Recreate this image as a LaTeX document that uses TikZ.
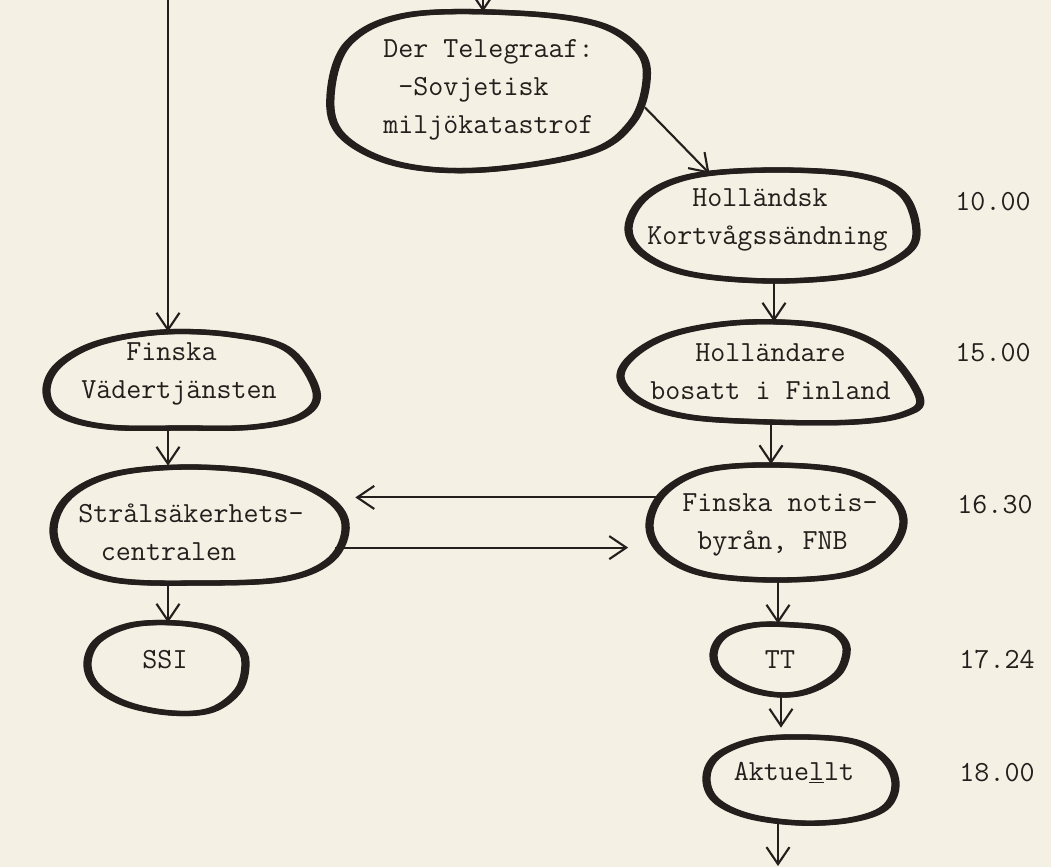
\documentclass[tikz,border=0pt]{standalone}
\usetikzlibrary{shapes.geometric,arrows.meta}
\definecolor{paper}{RGB}{245,240,228}
\definecolor{ink}{RGB}{36,30,28}
\newcommand\flowtext{\fontsize{16.6}{21.6}\selectfont\ttfamily}
\newcommand\blob[2]{
  \begin{scope}[shift={(#1.center)}]
    \draw[blobline] plot[smooth cycle, tension=.6] coordinates {#2} ;
    \draw[blobline, shift={(-3, 0)}] plot[smooth cycle, tension=.6] coordinates {#2} ;
  \end{scope}
}
\tikzset{
  blobline/.style={line width=3pt, draw=ink, line join=round},
  blobnode/.style 2 args={ellipse, minimum width=#1*.02cm, minimum height=#2*.02cm, inner sep=0pt},
  flowlabel/.style={font=\flowtext, align=left, inner sep=0pt, text=ink},
  flowarrow/.style={line width=1.2pt, draw=ink, -{Straight Barb[length=.34cm, width=.46cm]}}
}
\begin{document}
\begin{tikzpicture}[x=.02cm, y=-.02cm]
  \fill[paper] (0, 0) rectangle (1051, 867) ;
  \useasboundingbox (0, 0) rectangle (1051, 867) ;

  \node[blobnode={318}{158}] (tel) at (489, 91) {} ;
  \node[blobnode={288}{112}] (holl) at (774, 224) {} ;
  \node[blobnode={300}{100}] (hollfi) at (771, 372) {} ;
  \node[blobnode={255}{115}] (fnb) at (778, 522) {} ;
  \node[blobnode={133}{70}] (tt) at (781, 659) {} ;
  \node[blobnode={190}{86}] (akt) at (802, 780) {} ;
  \node[blobnode={270}{96}] (fmi) at (185, 380) {} ;
  \node[blobnode={292}{116}] (stuk) at (201, 524) {} ;
  \node[blobnode={158}{90}] (ssi) at (168, 668) {} ;

  \blob{tel}{(-139,-48) (-80,-76) (28,-78) (110,-67) (151,-41) (159,-10) (144,32) (100,62) (-6,79) (-90,73) (-145,45) (-157,5)}
  \blob{holl}{(144,10) (128,33) (82,51) (0,57) (-82,50) (-128,31) (-144,4) (-126,-28) (-80,-48) (0,-54) (84,-49) (130,-30)}
  \blob{hollfi}{(150,25) (135,42) (85,50) (0,50) (-80,45) (-128,30) (-149,5) (-132,-20) (-90,-40) (-20,-50) (60,-45) (115,-22)}
  \blob{fnb}{(127,0) (112,30) (72,52) (0,58) (-72,52) (-113,32) (-127,3) (-112,-30) (-70,-52) (0,-57) (72,-50) (113,-27)}
  \blob{tt}{(67,-6) (58,15) (32,31) (3,36) (-30,30) (-58,14) (-66,-5) (-55,-24) (-25,-34) (15,-34) (48,-30) (63,-20)}
  \blob{akt}{(95,5) (84,28) (50,40) (0,43) (-52,36) (-85,20) (-94,-3) (-82,-25) (-45,-40) (5,-43) (55,-38) (85,-20)}
  \blob{fmi}{(133,12) (118,36) (70,47) (0,48) (-75,47) (-122,35) (-137,12) (-125,-15) (-85,-37) (-20,-48) (50,-45) (105,-30)}
  \blob{stuk}{(146,0) (132,35) (85,55) (0,59) (-85,56) (-132,36) (-146,5) (-130,-28) (-85,-50) (-10,-57) (70,-50) (125,-28)}
  \blob{ssi}{(79,-5) (72,22) (45,42) (5,45) (-40,36) (-70,18) (-79,-5) (-68,-28) (-35,-43) (10,-45) (50,-38) (72,-22)}

  \node[flowlabel, anchor=west] (teltext) at (383, 90) {Der Telegraaf:\\\hphantom{x}-Sovjetisk\\miljökatastrof} ;
  \node[flowlabel, anchor=west] (holltext) at (647, 220) {\hphantom{xxx}Holländsk\\Kortvågssändning} ;
  \node[flowlabel, anchor=west] (hollfitext) at (650, 372) {\hphantom{xxx}Holländare\\bosatt i Finland} ;
  \node[flowlabel, anchor=west] (fnbtext) at (682, 525) {Finska notis-\\\hphantom{x}byrån, FNB} ;
  \node[flowlabel] (tttext) at (780, 660) {TT} ;
  \node[flowlabel] (akttext) at (794, 773) {Aktue\underline{l}lt} ;
  \node[flowlabel, anchor=west] (fmitext) at (81, 374) {\hphantom{xxx}Finska\\Vädertjänsten} ;
  \node[flowlabel, anchor=west] (stuktext) at (78, 532) {Strålsäkerhets-\\\hphantom{x}\hspace*{.26em}centralen} ;
  \node[flowlabel] (ssitext) at (165, 660) {SSI} ;

  \node[flowlabel] (kl1000) at (993, 202) {10.00} ;
  \node[flowlabel] (kl1500) at (993, 353) {15.00} ;
  \node[flowlabel] (kl1630) at (995, 505) {16.30} ;
  \node[flowlabel] (kl1724) at (997, 660) {17.24} ;
  \node[flowlabel] (kl1800) at (997, 773) {18.00} ;

  \coordinate (telin) at (483, -30) ;
  \coordinate (fmiin) at (168, -30) ;
  \coordinate (aktout) at (778, 866) ;

  \draw[flowarrow] (telin) -- (telin |- tel.north) ;
  \draw[flowarrow] (fmiin) -- (fmiin |- fmi.north) ;
  \draw[flowarrow] (tel.-6) -- (holl.142) ;
  \draw[flowarrow] (holl.south) -- (holl.south |- hollfi.north) ;
  \draw[flowarrow] (hollfi.south) -- (hollfi.south |- fnb.north) ;
  \draw[flowarrow, shorten >=.16cm] (fnb.168) -- (fnb.168 -| stuk.east) ;
  \draw[flowarrow, shorten >=.44cm] (stuk.-10) -- (stuk.-10 -| fnb.west) ;
  \draw[flowarrow] (fnb.south) -- (fnb.south |- tt.north) ;
  \draw[flowarrow, shorten >=.18cm] (tt.south) -- (tt.south |- akt.north) ;
  \draw[flowarrow] (fmi.south -| fmiin) -- (stuk.north -| fmiin) ;
  \draw[flowarrow] (stuk.south -| fmiin) -- (ssi.north -| fmiin) ;
  \draw[flowarrow] (akt.south -| aktout) -- (aktout) ;
\end{tikzpicture}
\end{document}
